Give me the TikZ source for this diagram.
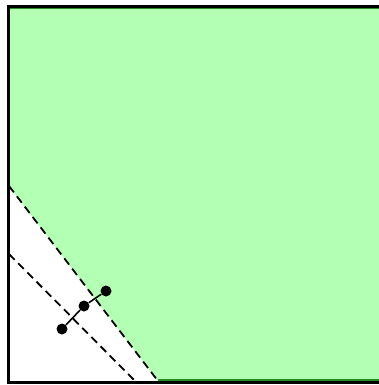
\documentclass[tikz,border=0pt]{standalone}
\begin{document}
\begin{tikzpicture}[x=1pt,y=-1pt,
  region/.style={fill={rgb,255:red,179;green,255;blue,179}},
  regionedge/.style={draw={rgb,255:red,40;green,140;blue,40},line width=1.2pt},
  axisline/.style={line width=3pt,black},
  bound/.style={line width=1.8pt,dash pattern=on 8pt off 5pt},
  dot/.style={circle,fill=black,inner sep=0pt,minimum size=11pt}]
\useasboundingbox (0,0) rectangle (379,385);
\fill[white] (0,0) rectangle (379,385);
\fill[region] (8,8) -- (379,8) -- (379,381) -- (158,381) -- (8,185) -- cycle;
\draw[regionedge] (8,8.5) -- (379,8.5);
\draw[regionedge] (158,380) -- (379,380);
\draw[axisline] (8,5.5) -- (8,383);
\draw[axisline] (6.5,6.5) -- (379,6.5);
\draw[axisline] (6.5,382.5) -- (379,382.5);
\coordinate (a1) at (9,186);
\coordinate (a2) at (158,381);
\coordinate (b1) at (9,254);
\coordinate (b2) at (135,381);
\draw[bound] (a1) -- (a2);
\draw[bound] (b1) -- (b2);
\node[dot] (p1) at (62,329) {};
\node[dot] (p2) at (84,306) {};
\node[dot] (p3) at (106,291) {};
\draw[line width=1.6pt] (p1) -- (p2) -- (p3);
\end{tikzpicture}
\end{document}
